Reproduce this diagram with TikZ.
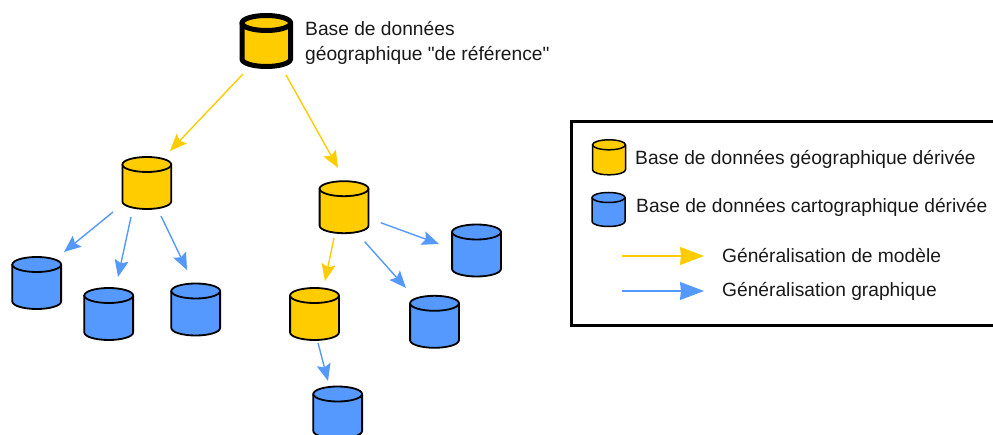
\documentclass[tikz,border=0pt]{standalone}
\usepackage{fontspec}
\newfontfamily\labelfont{Liberation Sans}
\usetikzlibrary{arrows.meta,calc}
\definecolor{dbyellow}{HTML}{FFCC00}
\definecolor{dbblue}{HTML}{5599FF}
\tikzset{
  dbbox/.style={inner sep=0pt,outer sep=0pt,draw=none,rectangle},
  cyl/.style={draw=black,line width=1.8pt,line join=round},
  ylw/.style={cyl,fill=dbyellow},
  blu/.style={cyl,fill=dbblue},
  yarr/.style={draw=dbyellow,line width=1.4pt,-{Stealth[length=17pt,width=14pt,inset=3pt,fill=dbyellow]}},
  barr/.style={draw=dbblue,line width=1.4pt,-{Stealth[length=17pt,width=14pt,inset=3pt,fill=dbblue]}},
  ylegend/.style={draw=dbyellow,line width=1.5pt,-{Stealth[length=24pt,width=18pt,inset=1pt,fill=dbyellow]}},
  blegend/.style={draw=dbblue,line width=1.5pt,-{Stealth[length=24pt,width=18pt,inset=1pt,fill=dbblue]}},
  label/.style={anchor=base west,inner sep=0pt,font=\labelfont\fontsize{19.2}{24}\selectfont,text=black!90},
}
% name, cx, cy, width, height, ry, style
\newcommand{\dbcyl}[7]{%
  \pgfmathsetmacro{\rxv}{#4/2}%
  \pgfmathsetmacro{\lv}{#2-\rxv}%
  \pgfmathsetmacro{\rv}{#2+\rxv}%
  \pgfmathsetmacro{\tv}{#3-#5/2+#6}%
  \pgfmathsetmacro{\bv}{#3+#5/2-#6}%
  \pgfmathsetmacro{\kx}{0.5523*\rxv}%
  \pgfmathsetmacro{\ky}{0.5523*#6}%
  \node[dbbox,minimum width=#4pt,minimum height=#5pt] (#1) at (#2,#3) {};
  \draw[#7] (\lv,\tv) -- (\lv,\bv)
    .. controls (\lv,\bv+\ky) and (#2-\kx,\bv+#6) .. (#2,\bv+#6)
    .. controls (#2+\kx,\bv+#6) and (\rv,\bv+\ky) .. (\rv,\bv)
    -- (\rv,\tv) -- cycle;
  \draw[#7] (#2,\tv) ellipse [x radius=\rxv pt,y radius=#6 pt];
}
\begin{document}
\begin{tikzpicture}[x=1pt,y=-1pt]
\useasboundingbox (0,0) rectangle (993,435);
% main cylinders
\dbcyl{top}{266.3}{41}{48.6}{51}{7.5}{ylw,line width=5pt}
\dbcyl{ya}{146.8}{183}{48.8}{52}{7.5}{ylw}
\dbcyl{yb}{344}{207.2}{48.8}{52}{7.5}{ylw}
\dbcyl{yc}{314.5}{314}{48.8}{52}{7.5}{ylw}
\dbcyl{b1}{36.7}{283}{48.8}{52}{7.5}{blu}
\dbcyl{b2}{108.7}{314}{48.8}{52}{7.5}{blu}
\dbcyl{b3}{195.7}{309.5}{48.8}{52}{7.5}{blu}
\dbcyl{b4}{476.5}{250.5}{48.8}{52}{7.5}{blu}
\dbcyl{b5}{434.5}{321.8}{48.8}{52}{7.5}{blu}
\dbcyl{b6}{337.7}{412.5}{48.8}{52}{7.5}{blu}
% connectors
\draw[yarr] ($(top)+(-23.3,33)$) -- ($(ya)+(23.2,-32)$);
\draw[yarr] ($(top)+(19.7,34)$) -- ($(yb)+(-6,-39.2)$);
\draw[barr] ($(ya)+(-33.8,29)$) -- ($(b1)+(27.3,-31)$);
\draw[barr] ($(ya)+(-15.8,34)$) -- ($(b2)+(9.3,-37)$);
\draw[barr] ($(ya)+(14.2,33)$) -- ($(b3)+(-8.7,-39.5)$);
\draw[yarr] ($(yb)+(-10,30.8)$) -- ($(yc)+(10.5,-33)$);
\draw[barr] ($(yb)+(36.7,15.5)$) -- ($(b4)+(-37.5,-6.5)$);
\draw[barr] ($(yb)+(20.7,34.5)$) -- ($(b5)+(-28.5,-33.8)$);
\draw[barr] ($(yc)+(3.5,29)$) -- ($(b6)+(-9.7,-31.5)$);
% title text
\node[label] (t1) at (305,36) {Base de données};
\node[label] (t2) at (305,60.5) {géographique "de référence"};
% legend
\node[dbbox,draw=black,line width=2.5pt,minimum width=426pt,minimum height=204pt] (legend) at (784.5,223.5) {};
\dbcyl{ly}{609}{157.3}{33}{35}{5}{ylw,line width=1.5pt}
\dbcyl{lb}{608.5}{209.5}{33}{34}{5}{blu,line width=1.5pt}
\node[label] (l1) at (635,164.5) {Base de données géographique dérivée};
\node[label] (l2) at (636,213) {Base de données cartographique dérivée};
\node[label] (l3) at (722,263) {Généralisation de modèle};
\node[label] (l4) at (722,297) {Généralisation graphique};
\coordinate (ya1) at (622,256);
\coordinate (ya2) at (704,256);
\coordinate (ba1) at (622,291);
\coordinate (ba2) at (704,291);
\draw[ylegend] (ya1) -- (ya2);
\draw[blegend] (ba1) -- (ba2);
\end{tikzpicture}
\end{document}
